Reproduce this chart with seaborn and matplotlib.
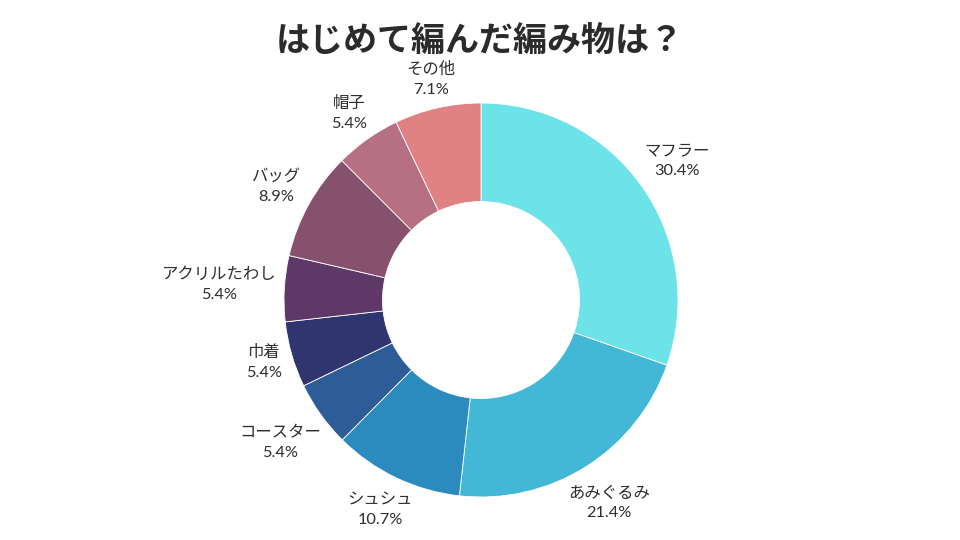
import numpy as np
import matplotlib
matplotlib.use("Agg")
import matplotlib.pyplot as plt
import seaborn as sns

title = "はじめて編んだ編み物は？"
categories = ["マフラー", "あみぐるみ", "シュシュ", "コースター", "巾着",
              "アクリルたわし", "バッグ", "帽子", "その他"]
values = [30.4, 21.4, 10.7, 5.4, 5.4, 5.4, 8.9, 5.4, 7.1]
colors = ["#6be3e8", "#42b8d6", "#2b8bbf", "#2e5c97", "#30346f",
          "#5e3866", "#86516f", "#b77083", "#e08283"]

sns.set_theme(style="white")
plt.rcParams['font.family'] = ['Lato', 'Noto Sans CJK JP', 'DejaVu Sans']

fig = plt.figure(figsize=(9.6, 5.4), dpi=100)
ax = fig.add_axes([0, 0, 1, 1])
R_px = 197.0
cx, cy = 481.0, 300.0

wedges, _ = ax.pie(values, colors=colors, startangle=90, counterclock=False,
                   radius=1.0, wedgeprops=dict(width=0.5, edgecolor="white", linewidth=0.6))
ax.set_aspect("auto")
ax.set_xlim(-cx / R_px, (960 - cx) / R_px)
ax.set_ylim(-(540 - cy) / R_px, cy / R_px)
ax.axis("off")

fig.text(0.5, 1 - 40 / 540, title, ha="center", va="center", fontsize=24.5,
         fontweight="bold", color="#2b2b2b", family=['Noto Sans CJK JP', 'DejaVu Sans'])

renderer = fig.canvas.get_renderer()
gap = 1.0 + 7 / R_px
for w, cat, v in zip(wedges, categories, values):
    ang = np.deg2rad((w.theta1 + w.theta2) / 2)
    dx, dy = np.cos(ang), np.sin(ang)
    t = ax.text(0, 0, f"{cat}\n{v:.1f}%", ha="center", va="center", fontsize=11.8,
                color="#2e2e2e", linespacing=1.5, multialignment="center")
    bb = t.get_window_extent(renderer)
    hw, hh = bb.width / 2 / R_px, bb.height / 2 / R_px
    ext = abs(dx) * hw + abs(dy) * hh
    r = gap + ext
    t.set_position((r * dx, r * dy))

fig.savefig("out.png", dpi=100, facecolor="white")
